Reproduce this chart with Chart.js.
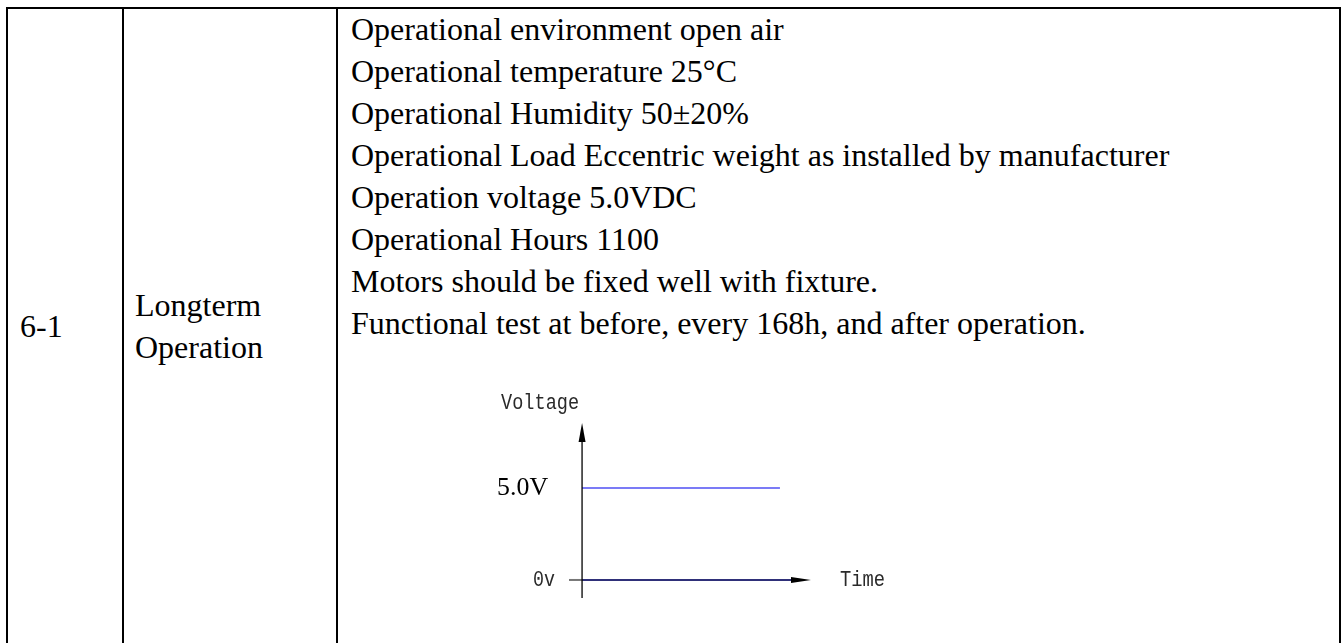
<!DOCTYPE html>
<html>
<head>
<meta charset="utf-8">
<script src="https://cdn.jsdelivr.net/npm/chart.js@4.4.1/dist/chart.umd.min.js"></script>
<style>
html, body { margin: 0; padding: 0; background: #fff; }
body { width: 1341px; height: 643px; position: relative; overflow: hidden; }
.rule { position: absolute; background: #000; }
.txt { position: absolute; font-family: "Liberation Serif", "Times New Roman", Times, serif;
       font-size: 32px; line-height: 42px; white-space: nowrap; color: #000; }
#chartBox { position: absolute; left: 480px; top: 390px; width: 420px; height: 220px; }
</style>
</head>
<body>
<!-- table frame -->
<div class="rule" style="left:6px;top:7px;width:1335px;height:2px"></div>
<div class="rule" style="left:6px;top:7px;width:2px;height:636px"></div>
<div class="rule" style="left:122px;top:7px;width:2px;height:636px"></div>
<div class="rule" style="left:336px;top:7px;width:2px;height:636px"></div>
<div class="rule" style="left:1339px;top:7px;width:2px;height:636px"></div>

<div class="txt" id="itemNo" style="left:20px;top:305px"></div>
<div class="txt" id="itemName" style="left:135px;top:284px"></div>
<div class="txt" id="conditions" style="left:351px;top:8px"></div>

<div id="chartBox"><canvas id="voltChart" width="420" height="220"></canvas></div>

<script>
// table content
const itemNo = "6-1";
const itemName = ["Longterm", "Operation"];
const conditions = [
    "Operational environment open air",
    "Operational temperature 25°C",
    "Operational Humidity 50±20%",
    "Operational Load Eccentric weight as installed by manufacturer",
    "Operation voltage 5.0VDC",
    "Operational Hours 1100",
    "Motors should be fixed well with fixture.",
    "Functional test at before, every 168h, and after operation."
];

// chart data (time is normalised, no units on the sketch)
const supplyTime = [0, 1];
const supplyVolts = [5.0, 5.0];
const stubTime = [-0.066, 0];
const groundTime = [0, 1.1];
const groundVolts = [0, 0];
const tickValues = [0, 5.0];
const tickLabels = ["0v", "5.0V"];
const axisNames = ["Voltage", "Time"];

document.getElementById("itemNo").textContent = itemNo;
document.getElementById("itemName").innerHTML = itemName.join("<br>");
document.getElementById("conditions").innerHTML = conditions.join("<br>");

function toPoints(xs, ys) {
    return xs.map((t, i) => ({ x: t, y: ys[i] }));
}

const axisArrows = {
    id: "axisArrows",
    afterDatasetsDraw(chart) {
        const ctx = chart.ctx;
        const x = chart.scales.x, y = chart.scales.y;
        const x0 = x.getPixelForValue(0);
        const y0 = y.getPixelForValue(0);
        const yTop = y.getPixelForValue(y.max);
        const yBot = y.getPixelForValue(y.min);
        const xEnd = x.getPixelForValue(x.max);

        ctx.save();
        // vertical axis with arrow
        ctx.strokeStyle = "#000";
        ctx.lineWidth = 1.3;
        ctx.beginPath();
        ctx.moveTo(x0, yBot);
        ctx.lineTo(x0, yTop + 6);
        ctx.stroke();
        ctx.fillStyle = "#000";
        ctx.beginPath();
        ctx.moveTo(x0, yTop);
        ctx.lineTo(x0 - 3.5, yTop + 19);
        ctx.lineTo(x0 + 3.5, yTop + 19);
        ctx.closePath();
        ctx.fill();
        // horizontal arrow head
        ctx.beginPath();
        ctx.moveTo(xEnd, y0);
        ctx.lineTo(xEnd - 20, y0 - 3);
        ctx.lineTo(xEnd - 20, y0 + 3);
        ctx.closePath();
        ctx.fill();

        // labels (narrow serif mono, like the sketch)
        ctx.textBaseline = "middle";
        ctx.font = "22px 'Liberation Mono', monospace";
        ctx.fillStyle = "#2a2a2a";
        ctx.textAlign = "right";
        ctx.fillText(axisNames[0], x0 - 3, yTop - 20, 78);
        ctx.fillText(tickLabels[0], x0 - 27, y.getPixelForValue(tickValues[0]), 22);
        ctx.textAlign = "left";
        ctx.fillText(axisNames[1], xEnd + 29, y0, 45);
        ctx.font = "26px 'Liberation Serif', serif";
        ctx.fillStyle = "#000";
        ctx.textAlign = "right";
        ctx.fillText(tickLabels[1], x0 - 34, y.getPixelForValue(tickValues[1]), 51);
        ctx.restore();
    }
};

new Chart(document.getElementById("voltChart"), {
    type: "line",
    data: {
        datasets: [
            {
                data: toPoints(supplyTime, supplyVolts),
                borderColor: "#7b7bf6",
                borderWidth: 2,
                pointRadius: 0,
                clip: false
            },
            {
                data: toPoints(stubTime, groundVolts),
                borderColor: "#777777",
                borderWidth: 2,
                pointRadius: 0,
                clip: false
            },
            {
                data: toPoints(groundTime, groundVolts),
                borderColor: "#2f3079",
                borderWidth: 2,
                pointRadius: 0,
                clip: false
            }
        ]
    },
    options: {
        responsive: false,
        animation: false,
        layout: { padding: { left: 89, right: 89, top: 33, bottom: 12 } },
        plugins: { legend: { display: false }, tooltip: { enabled: false } },
        scales: {
            x: { type: "linear", min: -0.066, max: 1.157, display: false },
            y: { type: "linear", min: -0.98, max: 8.53, display: false }
        }
    },
    plugins: [axisArrows]
});
</script>
</body>
</html>
